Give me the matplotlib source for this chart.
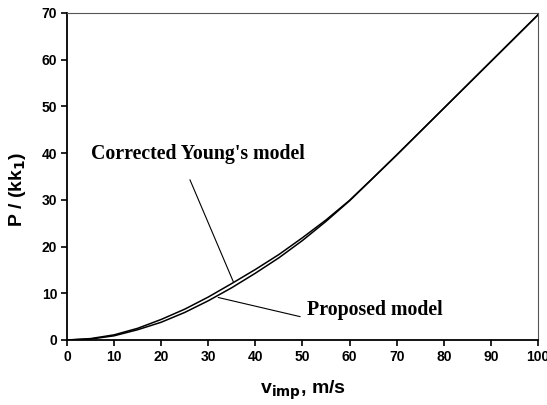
import matplotlib
matplotlib.use("Agg")
import matplotlib.pyplot as plt

v = [0, 5, 10, 15, 20, 25, 30, 35, 40, 45, 50, 55, 60, 65, 70, 75, 80, 85, 90, 95, 100]
corrected_young = [0, 0.3, 1.1, 2.5, 4.4, 6.6, 9.2, 12.1, 15.1, 18.3, 21.9, 25.7, 29.9,
                   34.7, 39.6, 44.6, 49.6, 54.6, 59.6, 64.6, 69.6]
proposed = [0, 0.2, 0.9, 2.2, 3.8, 5.9, 8.4, 11.2, 14.3, 17.6, 21.3, 25.4, 29.8,
            34.7, 39.6, 44.6, 49.6, 54.6, 59.6, 64.6, 69.6]

xticks = [0, 10, 20, 30, 40, 50, 60, 70, 80, 90, 100]
yticks = [0, 10, 20, 30, 40, 50, 60, 70]

fig = plt.figure(figsize=(5.47, 4.05), dpi=100)
ax = fig.add_axes([0.1225, 0.1605, 0.861, 0.8075])

ax.plot(v, corrected_young, color='black', lw=1.1)
ax.plot(v, proposed, color='black', lw=1.1)

ax.set_xlim(0, 100)
ax.set_ylim(0, 70)
ax.set_xticks(xticks)
ax.set_yticks(yticks)

sans = 'Liberation Sans'
serif = 'Liberation Serif'
for lab in ax.get_xticklabels() + ax.get_yticklabels():
    lab.set_fontfamily(sans)
    lab.set_fontweight('bold')
    lab.set_fontsize(10)

ax.tick_params(direction='out', length=4, width=1.2, top=False, right=False, pad=3)
for s in ['left', 'bottom']:
    ax.spines[s].set_linewidth(1.3)
    ax.spines[s].set_color('black')
for s in ['top', 'right']:
    ax.spines[s].set_linewidth(0.8)
    ax.spines[s].set_color('#555555')

ax.set_xlabel(r'v$_{\mathbf{imp}}$, m/s', fontfamily=sans, fontweight='bold', fontsize=14, labelpad=11)
ax.set_ylabel(r'P / (kk$_{\mathbf{1}}$)', fontfamily=sans, fontweight='bold', fontsize=14)
ax.yaxis.set_label_coords(-0.083, 0.46)

ax.text(5.0, 39.8, "Corrected Young's model", fontfamily=serif, fontweight='bold',
        fontsize=14.3, va='center', ha='left')
ax.text(51.0, 6.4, "Proposed model", fontfamily=serif, fontweight='bold',
        fontsize=14.3, va='center', ha='left')

line_kw = dict(arrowstyle='-', color='black', lw=0.8, shrinkA=0, shrinkB=0)
ax.annotate('', xy=(35.3, 12.5), xytext=(26.1, 34.3), arrowprops=line_kw)
ax.annotate('', xy=(32.1, 9.1), xytext=(49.5, 5.0), arrowprops=line_kw)

fig.savefig('out.png', dpi=100)
